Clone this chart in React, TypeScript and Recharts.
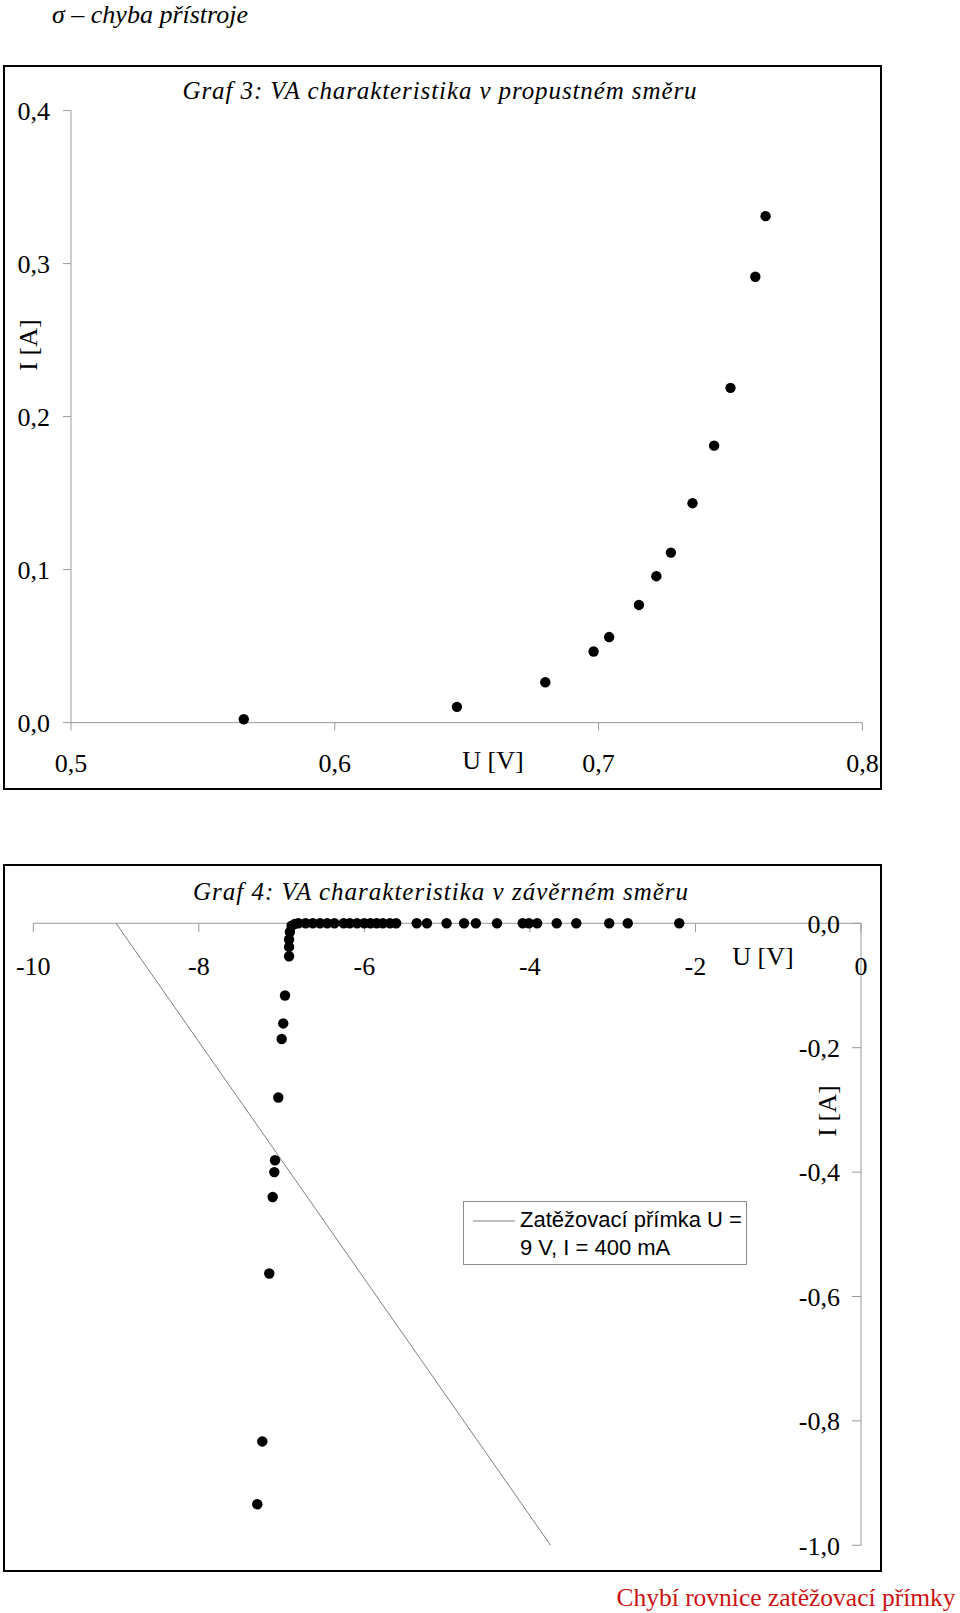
import React from 'react';
import { ScatterChart, Scatter, XAxis, YAxis, Legend } from 'recharts';

const SERIF = '"Liberation Serif", "Times New Roman", serif';
const SANS = '"Liberation Sans", Arial, sans-serif';
const AXIS_GREY = '#9a9a9a';

// Graf 3 - forward direction, U [V] / I [A]
const forwardU = [0.5655, 0.6463, 0.6798, 0.6981, 0.704, 0.7153, 0.7219, 0.7274, 0.7356, 0.7438, 0.75, 0.7594, 0.7633];
const forwardI = [0.0022, 0.0103, 0.0264, 0.0465, 0.0559, 0.0769, 0.0957, 0.1111, 0.1434, 0.181, 0.2188, 0.2914, 0.331];
const forwardUTicks = [0.5, 0.6, 0.7, 0.8];
const forwardITicks = [0, 0.1, 0.2, 0.3, 0.4];

// Graf 4 - reverse direction
const reverseU = [
  -2.196, -2.818, -3.042, -3.44, -3.676, -3.913, -4.012, -4.087, -4.398, -4.653,
  -4.796, -5.007, -5.244, -5.368, -5.616, -5.69, -5.777, -5.852, -5.927, -6.001,
  -6.089, -6.176, -6.25, -6.362, -6.449, -6.536, -6.623, -6.71, -6.797,
  -6.84, -6.88, -6.9, -6.91, -6.91, -6.91,
  -6.959, -6.98, -6.999, -7.04, -7.08, -7.088, -7.108, -7.149, -7.233, -7.294,
];
const reverseI = [
  0, 0, 0, 0, 0, 0, 0, 0, 0, 0,
  0, 0, 0, 0, 0, 0, 0, 0, 0, 0,
  0, 0, 0, 0, 0, 0, 0, 0, 0,
  -0.001, -0.004, -0.014, -0.026, -0.038, -0.053,
  -0.116, -0.161, -0.186, -0.28, -0.381, -0.4, -0.44, -0.563, -0.833, -0.934,
];
const reverseUTicks = [-10, -8, -6, -4, -2, 0];
const reverseITicks = [-1, -0.8, -0.6, -0.4, -0.2, 0];

// load line (zatěžovací přímka)
const loadU = [-9, -3.75];
const loadI = [0, -1];
const loadLabel = ['Zatěžovací přímka U =', '9 V, I = 400 mA'];

const comma = (v: number) => v.toFixed(1).replace('.', ',');

const forwardData = forwardU.map((u, k) => ({ u, i: forwardI[k] }));
const reverseData = reverseU.map((u, k) => ({ u, i: reverseI[k] }));
const loadData = loadU.map((u, k) => ({ u, i: loadI[k] }));

const Dot = (props: any) => <circle cx={props.cx} cy={props.cy} r={5.2} fill="#000" />;
const NoDot = () => <g />;

const tickStyle = { fill: '#000', fontSize: 26, fontFamily: SERIF };

const at = (x: number, y: number, extra: React.CSSProperties = {}): React.CSSProperties => ({
  position: 'absolute',
  left: x,
  top: y,
  transform: 'translate(-50%, -50%)',
  whiteSpace: 'nowrap',
  lineHeight: 1,
  ...extra,
});

const LoadLegend = () => (
  <div
    style={{
      width: 284,
      height: 64,
      boxSizing: 'border-box',
      border: '1px solid #8c8c8c',
      background: '#fff',
      position: 'relative',
      fontFamily: SANS,
      fontSize: 22,
      color: '#000',
    }}
  >
    <svg width={42} height={2} style={{ position: 'absolute', left: 9, top: 18 }}>
      <line x1={0} y1={1} x2={42} y2={1} stroke="#808080" strokeWidth={1} />
    </svg>
    <div style={{ position: 'absolute', left: 56, top: 4, lineHeight: '28px', whiteSpace: 'nowrap', textAlign: 'left' }}>
      {loadLabel[0]}
      <br />
      {loadLabel[1]}
    </div>
  </div>
);

export default function App() {
  return (
    <div style={{ position: 'absolute', left: 0, top: 0, width: 960, height: 1613, background: '#fff', fontFamily: SERIF, overflow: 'hidden' }}>
      <div style={at(150, 15, { fontSize: 26, fontStyle: 'italic' })}>σ – chyba přístroje</div>

      {/* Graf 3 */}
      <div style={{ position: 'absolute', left: 3, top: 65, width: 879, height: 725 }}>
        <ScatterChart width={879} height={725} margin={{ top: 45.6, right: 19.6, bottom: 7.4, left: 8 }}>
          <XAxis
            type="number"
            dataKey="u"
            domain={[0.5, 0.8]}
            ticks={forwardUTicks}
            interval={0}
            height={60}
            tickFormatter={comma}
            tick={tickStyle}
            tickSize={8}
            tickMargin={23}
            axisLine={{ stroke: AXIS_GREY }}
            tickLine={{ stroke: AXIS_GREY }}
          />
          <YAxis
            type="number"
            dataKey="i"
            domain={[0, 0.4]}
            ticks={forwardITicks}
            interval={0}
            width={60}
            tickFormatter={comma}
            tick={tickStyle}
            tickSize={8}
            tickMargin={13}
            axisLine={{ stroke: AXIS_GREY }}
            tickLine={{ stroke: AXIS_GREY }}
          />
          <Scatter data={forwardData} fill="#000" shape={Dot} isAnimationActive={false} />
        </ScatterChart>
      </div>
      <div style={{ position: 'absolute', left: 3, top: 65, width: 879, height: 725, border: '2px solid #000', boxSizing: 'border-box', pointerEvents: 'none' }} />
      <div style={at(440, 90, { fontSize: 25, fontStyle: 'italic', letterSpacing: 0.9 })}>Graf 3: VA charakteristika v propustném směru</div>
      <div style={at(493, 761, { fontSize: 26 })}>U [V]</div>
      <div style={at(29, 345, { fontSize: 26, transform: 'translate(-50%, -50%) rotate(-90deg)' })}>I [A]</div>

      {/* Graf 4 */}
      <div style={{ position: 'absolute', left: 3, top: 864, width: 879, height: 708 }}>
        <ScatterChart width={879} height={708} margin={{ top: 59.3, right: 21, bottom: 26.7, left: 30.3 }}>
          <XAxis
            type="number"
            dataKey="u"
            orientation="top"
            mirror
            domain={[-10, 0]}
            ticks={reverseUTicks}
            interval={0}
            height={30}
            tick={tickStyle}
            tickSize={9}
            tickMargin={24}
            axisLine={{ stroke: AXIS_GREY }}
            tickLine={{ stroke: AXIS_GREY }}
          />
          <YAxis
            type="number"
            dataKey="i"
            orientation="right"
            mirror
            domain={[-1, 0]}
            ticks={reverseITicks}
            interval={0}
            width={21}
            tickFormatter={comma}
            tick={tickStyle}
            tickSize={9}
            tickMargin={12}
            axisLine={{ stroke: AXIS_GREY }}
            tickLine={{ stroke: AXIS_GREY }}
          />
          <Scatter
            name={loadLabel.join(' ')}
            data={loadData}
            line={{ stroke: '#808080', strokeWidth: 1 }}
            shape={NoDot}
            isAnimationActive={false}
          />
          <Scatter data={reverseData} fill="#000" shape={Dot} isAnimationActive={false} />
          <Legend
            layout="horizontal"
            align="center"
            verticalAlign="middle"
            content={LoadLegend}
            wrapperStyle={{ left: 460, top: 337, width: 284, height: 64 }}
          />
        </ScatterChart>
      </div>
      <div style={{ position: 'absolute', left: 3, top: 864, width: 879, height: 708, border: '2px solid #000', boxSizing: 'border-box', pointerEvents: 'none' }} />
      <div style={at(441, 891, { fontSize: 25, fontStyle: 'italic', letterSpacing: 1.0 })}>Graf 4: VA charakteristika v závěrném směru</div>
      <div style={at(763, 957, { fontSize: 26 })}>U [V]</div>
      <div style={at(828, 1111, { fontSize: 26, transform: 'translate(-50%, -50%) rotate(-90deg)' })}>I [A]</div>

      <div style={at(786, 1598, { fontSize: 25.5, color: '#cc1111' })}>Chybí rovnice zatěžovací přímky</div>
    </div>
  );
}
